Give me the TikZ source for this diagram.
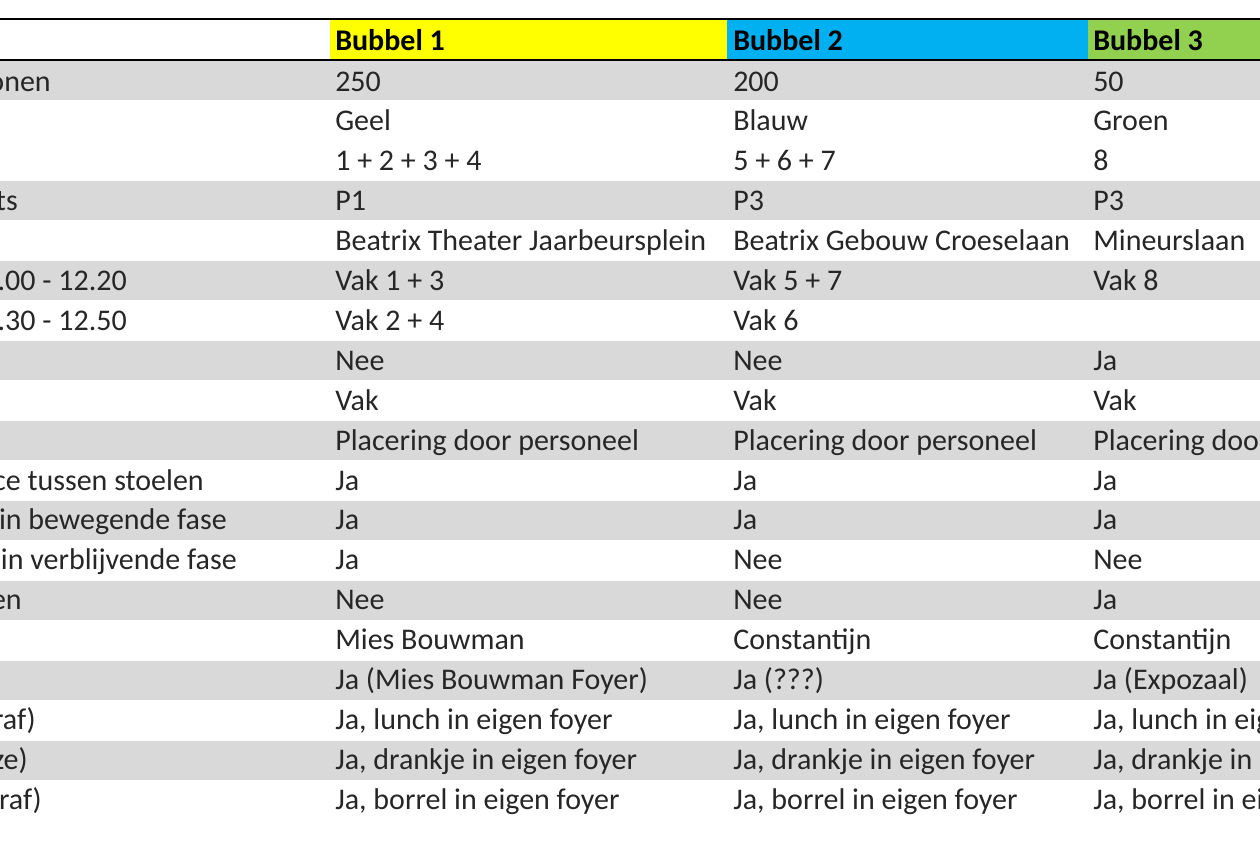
\documentclass[tikz,border=0pt]{standalone}
\usepackage{fontspec}
\setmainfont{Carlito}
\definecolor{rowgrey}{HTML}{D9D9D9}
\definecolor{hyellow}{HTML}{FFFF00}
\definecolor{hblue}{HTML}{00B0F0}
\definecolor{hgreen}{HTML}{92D050}
\definecolor{txt}{HTML}{262626}
\begin{document}
\begin{tikzpicture}[x=0.75pt,y=-0.75pt,
  cell/.style={anchor=base west,inner sep=0pt,font=\fontsize{22.5}{26}\selectfont,text=txt},
  lcell/.style={cell,anchor=base east},
  head/.style={cell,font=\fontsize{22.5}{26}\selectfont\bfseries,text=black}]
\useasboundingbox (0,0) rectangle (1260,840);
\begin{scope}
\clip (0,0) rectangle (1260,840);
\foreach \r in {0,3,5,7,9,11,13,15,17}{
  \fill[rowgrey] (0,{61+40*\r}) rectangle (1260,{100+40*\r});
}
\fill[hyellow] (330,20) rectangle (727,59);
\fill[hblue] (727,20) rectangle (1088,59);
\fill[hgreen] (1088,20) rectangle (1260,59);
\draw[line width=2.2pt] (0,19) -- (1260,19);
\draw[line width=2.2pt] (0,60) -- (1260,60);
\node[head] (h1) at (335,50) {Bubbel 1};
\node[head] (h2) at (733,50) {Bubbel 2};
\node[head] (h3) at (1093,50) {Bubbel 3};
\foreach \i/\e/\a/\b/\c/\d in {
0/51/onen/250/200/50,
1/0//Geel/Blauw/Groen,
2/0//1 + 2 + 3 + 4/5 + 6 + 7/8,
3/18/ts/P1/P3/P3,
4/0//Beatrix Theater Jaarbeursplein/Beatrix Gebouw Croeselaan/Mineurslaan,
5/127/2.00 - 12.20/Vak 1 + 3/Vak 5 + 7/Vak 8,
6/127/2.30 - 12.50/Vak 2 + 4/Vak 6/,
7/0//Nee/Nee/Ja,
8/0//Vak/Vak/Vak,
9/0//Placering door personeel/Placering door personeel/Placering door personeel,
10/204/ce tussen stoelen/Ja/Ja/Ja,
11/227/in bewegende fase/Ja/Ja/Ja,
12/237/in verblijvende fase/Ja/Nee/Nee,
13/22/en/Nee/Nee/Ja,
14/0//Mies Bouwman/Constantijn/Constantijn,
15/0//Ja (Mies Bouwman Foyer)/Ja (???)/Ja (Expozaal),
16/36/raf)/{Ja, lunch in eigen foyer}/{Ja, lunch in eigen foyer}/{Ja, lunch in eigen foyer},
17/28/ze)/{Ja, drankje in eigen foyer}/{Ja, drankje in eigen foyer}/{Ja, drankje in eigen foyer},
18/42/ceraf)/{Ja, borrel in eigen foyer}/{Ja, borrel in eigen foyer}/{Ja, borrel in eigen foyer}}{
  \node[lcell] (a\i) at (\e,{91+39.9*\i}) {\a};
  \node[cell] (b\i) at (335,{91+39.9*\i}) {\b};
  \node[cell] (c\i) at (733,{91+39.9*\i}) {\c};
  \node[cell] (d\i) at (1093,{91+39.9*\i}) {\d};
}
\end{scope}
\end{tikzpicture}
\end{document}
